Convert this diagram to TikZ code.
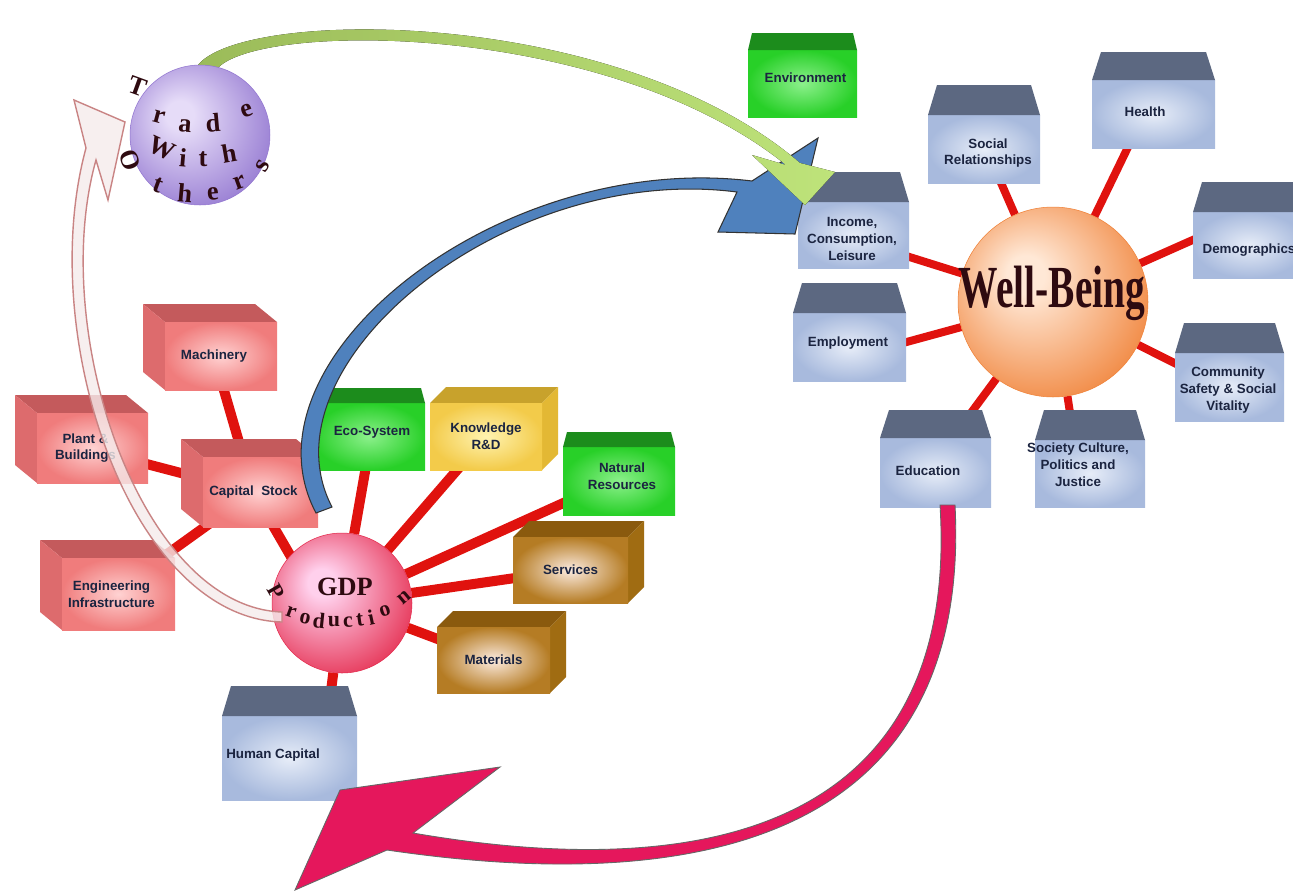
\documentclass[tikz,border=0pt]{standalone}
\usepackage{fontspec}
\setmainfont{Liberation Serif}
\setsansfont{Liberation Sans}
\usepackage{graphicx}
\usetikzlibrary{positioning,calc,backgrounds}

\definecolor{spokered}{HTML}{E0120E}
\definecolor{pinktop}{HTML}{C45A5C}
\definecolor{pinkside}{HTML}{DD6B6D}
\definecolor{pinkin}{HTML}{FFD2D2}
\definecolor{pinkout}{HTML}{F07C7C}
\definecolor{browntop}{HTML}{8A5A0E}
\definecolor{brownside}{HTML}{A06C12}
\definecolor{brownin}{HTML}{FCEBE0}
\definecolor{brownout}{HTML}{B57C24}
\definecolor{yellowtop}{HTML}{C8A22C}
\definecolor{yellowside}{HTML}{E3B834}
\definecolor{yellowin}{HTML}{FFF3B0}
\definecolor{yellowout}{HTML}{F3CB4A}
\definecolor{greentop}{HTML}{1C8C1C}
\definecolor{greenin}{HTML}{8CF08C}
\definecolor{greenout}{HTML}{28D028}
\definecolor{slatetop}{HTML}{5C6881}
\definecolor{slatein}{HTML}{E7EDF8}
\definecolor{slateout}{HTML}{A8BADD}
\definecolor{boxink}{HTML}{1B2440}
\definecolor{letterink}{HTML}{2E0A10}
\definecolor{gdplight}{HTML}{FFD0EC}
\definecolor{gdpdark}{HTML}{E42A4C}
\definecolor{wblight}{HTML}{FFE8D6}
\definecolor{wbdark}{HTML}{F08238}
\definecolor{tradelight}{HTML}{E6DCF8}
\definecolor{tradedark}{HTML}{9276D0}
\definecolor{arrowblue}{HTML}{4F81BD}
\definecolor{arrowgreen}{HTML}{9BBB59}
\definecolor{arrowlight}{HTML}{BEE37A}
\definecolor{arrowred}{HTML}{E5175C}
\definecolor{palered}{HTML}{C98484}
\definecolor{palefill}{HTML}{F5ECEC}

\pgfdeclareradialshading{gdpball}{\pgfpoint{-8bp}{8bp}}{color(0bp)=(gdplight); color(5bp)=(gdplight); color(33bp)=(gdpdark); color(50bp)=(gdpdark)}
\pgfdeclareradialshading{wbball}{\pgfpoint{-8bp}{8bp}}{color(0bp)=(wblight); color(5bp)=(wblight); color(33bp)=(wbdark); color(50bp)=(wbdark)}
\pgfdeclareradialshading{tradeball}{\pgfpoint{-8bp}{8bp}}{color(0bp)=(tradelight); color(5bp)=(tradelight); color(33bp)=(tradedark); color(50bp)=(tradedark)}

\tikzset{
  spoke/.style={draw=spokered, line width=0.2cm},
  wbspoke/.style={draw=spokered, line width=0.16cm},
  boxtext/.style={font=\sffamily\bfseries\fontsize{7.6}{9.6}\selectfont, text=boxink, align=center, inner sep=0pt},
  letter/.style={font=\bfseries\fontsize{15}{15}\selectfont, text=letterink, inner sep=0pt},
  prodletter/.style={font=\bfseries\fontsize{12.5}{12.5}\selectfont, text=letterink, inner sep=0pt},
  sphere/.style={circle, shade, inner sep=0pt, line width=0.3pt}
}

\begin{document}
\begin{tikzpicture}[x=0.02cm, y=-0.02cm]
  \begin{scope}[on background layer]
    \fill[white] (0,0) rectangle (1293,890);
  \end{scope}
  \useasboundingbox (0,0) rectangle (1293,890);
  \clip (0,0) rectangle (1293,890);

  % capital stock boxes
  \def\pdx{22};
  \def\pdy{18};
  \foreach \name/\xa/\ya/\xb/\yb/\txt in {machinery/165/322/277/390/Machinery, plant/37/413/148/483/{Plant \&\\Buildings}, capital/203/457/318/527/{Capital\ \ Stock}, engineering/62/558/175/630/{Engineering\\Infrastructure}} {
    \fill[pinktop] (\xa,\ya) -- (\xb,\ya) -- (\xb-\pdx,\ya-\pdy) -- (\xa-\pdx,\ya-\pdy) -- cycle;
    \fill[pinkside] (\xa,\ya) -- (\xa-\pdx,\ya-\pdy) -- (\xa-\pdx,\yb-\pdy) -- (\xa,\yb) -- cycle;
    \fill[inner color=pinkin, outer color=pinkout] (\xa,\ya) rectangle (\xb,\yb);
    \node[boxtext] (\name) at ({(\xa+\xb)/2-7},{(\ya+\yb)/2}) {\txt};
  }

  % inputs
  \def\bd{16};
  \foreach \name/\xa/\ya/\xb/\yb/\cl/\txt in {knowledge/430/403/542/470/yellow/{Knowledge\\R\&D}, services/513/537/628/603/brown/Services, materials/437/627/550/693/brown/Materials} {
    \fill[fill=\cl top] (\xa,\ya) -- (\xb,\ya) -- (\xb+\bd,\ya-\bd) -- (\xa+\bd,\ya-\bd) -- cycle;
    \fill[fill=\cl side] (\xb,\ya) -- (\xb+\bd,\ya-\bd) -- (\xb+\bd,\yb-\bd) -- (\xb,\yb) -- cycle;
    \fill[inner color=\cl in, outer color=\cl out] (\xa,\ya) rectangle (\xb,\yb);
    \node[boxtext] (\name) at ({(\xa+\xb)/2},{(\ya+\yb)/2}) {\txt};
  }

  \foreach \name/\xa/\ya/\xb/\yb/\bh/\txt in {eco/313/388/425/470/15/Eco-System, natural/563/432/675/515/15/{Natural\\Resources}, environment/748/33/857/117/17/Environment} {
    \fill[inner color=greenin, outer color=greenout] (\xa,\ya+\bh) rectangle (\xb,\yb);
    \fill[greentop] (\xa+4,\ya) -- (\xb-4,\ya) -- (\xb,\ya+\bh) -- (\xa,\ya+\bh) -- cycle;
    \node[boxtext] (\name) at ({(\xa+\xb)/2+3},{(\ya+\yb)/2+3}) {\txt};
  }

  % well-being boxes
  \foreach \name/\xa/\ya/\xb/\yb/\bh/\tx/\ty/\txt in {
      income/798/172/909/268/30/852/239/{Income,\\Consumption,\\Leisure},
      employment/793/283/906/381/30/848/343/Employment,
      education/880/410/991/507/28/928/471/Education,
      society/1035/410/1145/507/30/1078/465/{Society Culture,\\Politics and\\Justice},
      community/1175/323/1284/421/30/1228/390/{Community\\Safety \& Social\\Vitality},
      demographics/1193/182/1305/278/30/1249/250/Demographics,
      health/1092/52/1215/148/28/1145/112/Health,
      social/928/85/1040/183/30/988/153/{Social\\Relationships},
      human/222/686/357/800/30/273/755/{Human Capital}} {
    \fill[inner color=slatein, outer color=slateout] (\xa,\ya+\bh) rectangle (\xb,\yb);
    \fill[slatetop] (\xa+9,\ya) -- (\xb-9,\ya) -- (\xb,\ya+\bh) -- (\xa,\ya+\bh) -- cycle;
    \node[boxtext] (\name) at (\tx,\ty) {\txt};
  }

  % arrows
  \fill[arrowblue, draw=black!80, line width=0.6pt]
    (316,513) .. controls (235,360) and (500,150) .. (752,181)
    -- (818,138) -- (795,234) -- (718,232) -- (737,192)
    .. controls (505,162) and (258,365) .. (332,507) -- cycle;
  \fill[left color=arrowgreen, right color=arrowlight]
    (194,72) .. controls (215,8) and (610,0) .. (800,163)
    -- (835,172) -- (805,205) -- (752,155) -- (786,165)
    .. controls (600,15) and (232,22) .. (214,74) -- cycle;

  % spheres
  \node[sphere, shading=tradeball, draw=tradedark, minimum size=2.8cm] (trade) at (200,135) {};
  \node[sphere, shading=gdpball, draw=gdpdark, minimum size=2.8cm] (gdp) at (342,603) {};
  \node[sphere, shading=wbball, draw=wbdark, minimum size=3.8cm] (wellbeing) at (1053,302) {};

  \foreach \ch/\lx/\ly/\rot [count=\k] in {T/138/86/-20, r/159/117/-15, a/185/126/-5, d/213/123/5, e/247/111/20,
      O/130/160/-70, W/162/148/-25, i/183/158/-5, t/203/159/0, h/229/153/10, s/263/166/60,
      t/158/185/-20, h/185/193/-5, e/213/194/5, r/240/183/20} {
    \node[letter, rotate=\rot] (trade\k) at (\lx,\ly) {\ch};
  }
  \node[font=\bfseries\fontsize{15}{15}\selectfont, text=letterink] (gdptitle) at (345,587) {GDP};
  \foreach \ch/\lx/\ly/\rot [count=\k] in {P/276/592/-60, r/291/612/-20, o/305/619/-12, d/319/621/-6, u/334/622/0,
      c/348/622/3, t/360/620/8, i/371/617/12, o/385/611/18, n/404/598/40} {
    \node[prodletter, rotate=\rot] (prod\k) at (\lx,\ly) {\ch};
  }
  \node[text=letterink] (wbtitle) at (1052,293) {\scalebox{0.66}[1]{\fontsize{34}{34}\selectfont\bfseries Well-Being}};

  \fill[arrowred, draw=black!60, line width=0.5pt]
    (955,505) .. controls (970,800) and (760,905) .. (387,850)
    -- (295,890) -- (340,790) -- (500,767) -- (413,833)
    .. controls (755,892) and (958,795) .. (940,505) -- cycle;
  \filldraw[fill=palefill, fill opacity=0.8, draw=palered, line width=0.8pt]
    (282,622) .. controls (130,618) and (35,335) .. (86,148)
    -- (74,100) -- (125,122) -- (108,200) -- (96,160)
    .. controls (48,330) and (140,607) .. (282,612) -- cycle;

  % spokes
  \begin{scope}[on background layer]
    \foreach \a/\b in {gdp/eco, gdp/knowledge, gdp/natural, gdp/services, gdp/materials, capital/machinery, capital/plant, capital/engineering}
      \draw[spoke] (\a) -- (\b);
    \draw[spoke] ($(gdp)+(-30,-10)$) -- (capital);
    \draw[spoke] (gdp) -- ($(human)+(50,0)$);
    \foreach \b in {income, education, society, community, health, social}
      \draw[wbspoke] (wellbeing) -- (\b);
    \draw[wbspoke] (wellbeing) -- ($(employment)+(0,15)$);
    \draw[wbspoke] (wellbeing) -- ($(demographics)+(0,-35)$);
  \end{scope}
\end{tikzpicture}
\end{document}
